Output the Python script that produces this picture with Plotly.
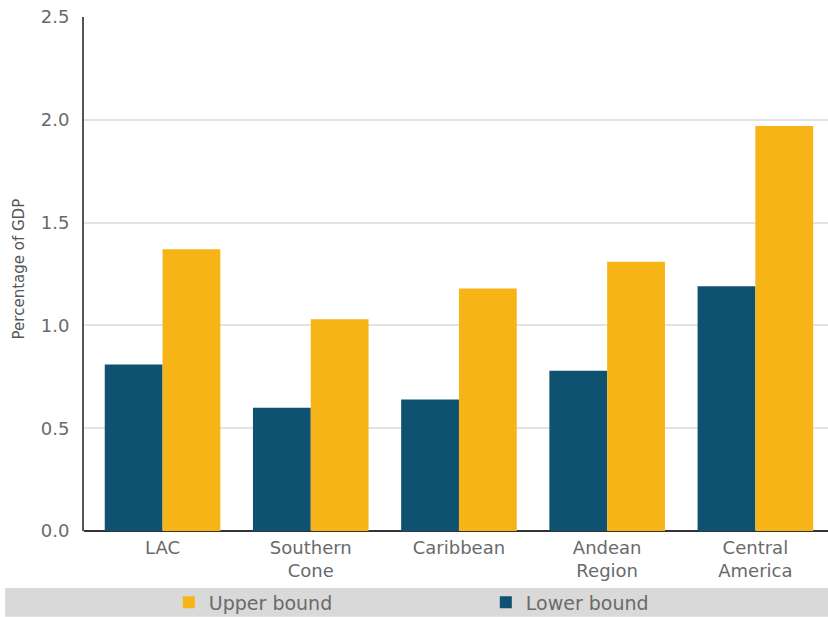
import plotly.graph_objects as go

categories = ["LAC", "Southern<br>Cone", "Caribbean", "Andean<br>Region", "Central<br>America"]
lower_bound = [0.81, 0.60, 0.64, 0.78, 1.19]
upper_bound = [1.37, 1.03, 1.18, 1.31, 1.97]
y_ticks = [0.0, 0.5, 1.0, 1.5, 2.0, 2.5]
y_tick_labels = ["0.0", "0.5", "1.0", "1.5", "2.0", "2.5"]
y_title = "Percentage of GDP"

FONT = "DejaVu Sans"
GREY = "#6a6a6a"

fig = go.Figure()
fig.add_trace(go.Bar(x=categories, y=lower_bound, name="Lower bound",
                     marker=dict(color="#0e5170", line=dict(width=0))))
fig.add_trace(go.Bar(x=categories, y=upper_bound, name="Upper bound",
                     marker=dict(color="#f7b417", line=dict(width=0))))

# grey legend band
fig.add_shape(type="rect", xref="paper", yref="paper",
              x0=-0.106, x1=1.0, y0=-0.167, y1=-0.111,
              fillcolor="#d9d9d9", line=dict(width=0), layer="below")

# y-axis title
fig.add_annotation(text=y_title, xref="paper", yref="paper",
                   x=-0.088, y=0.51, xanchor="center", yanchor="middle",
                   textangle=-90, showarrow=False,
                   font=dict(family=FONT, size=15, color="#555555"))

fig.update_layout(
    width=828, height=617,
    margin=dict(l=84, r=0, t=17, b=86, autoexpand=False),
    paper_bgcolor="white", plot_bgcolor="white",
    barmode="group", bargap=0.22, bargroupgap=0,
    font=dict(family=FONT, color=GREY, size=18),
    showlegend=True,
    legend=dict(orientation="h", traceorder="reversed",
                x=0.114, xanchor="left", y=-0.139, yanchor="middle",
                entrywidth=272, entrywidthmode="pixels",
                itemwidth=30,
                bgcolor="rgba(0,0,0,0)",
                font=dict(family=FONT, size=19, color=GREY),
                itemclick=False),
    xaxis=dict(range=[-0.53, 4.49], showgrid=False, zeroline=False,
               showline=False, ticks="", automargin=False,
               ticklabelstandoff=4,
               tickfont=dict(family=FONT, size=18, color=GREY)),
    yaxis=dict(range=[0, 2.5], tickvals=y_ticks, ticktext=y_tick_labels,
               showgrid=True, gridcolor="#e3e3e3", gridwidth=2,
               zeroline=True, zerolinecolor="#333333", zerolinewidth=2,
               showline=True, linecolor="#555555", linewidth=2,
               ticks="", ticklabelstandoff=9, automargin=False,
               tickfont=dict(family=FONT, size=18, color=GREY)),
)

fig.write_html("out.html", config={"displayModeBar": False},
               post_script="document.body.style.margin='0';document.body.style.padding='0';")
